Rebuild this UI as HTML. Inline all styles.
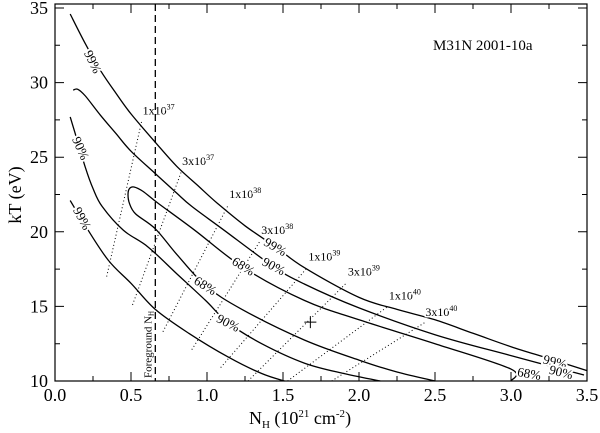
<!DOCTYPE html>
<html><head><meta charset="utf-8">
<style>
html,body{margin:0;padding:0;background:#fff;}
svg{display:block;font-family:"Liberation Serif",serif;}
</style></head>
<body>
<svg id="chart" width="600" height="433" viewBox="0 0 600 433">
<rect x="0" y="0" width="600" height="433" fill="#fff"/>
<g id="plot"></g>
</svg>
<script>
// ---- data ----
const xTicks = [0.0, 0.5, 1.0, 1.5, 2.0, 2.5, 3.0, 3.5];
const xTickLabels = ["0.0","0.5","1.0","1.5","2.0","2.5","3.0","3.5"];
const yTicks = [10, 15, 20, 25, 30, 35];
const yTickLabels = ["10","15","20","25","30","35"];
const contour99upper = [[0.1,34.6],[0.2,32.6],[0.3,30.8],[0.4,29.3],[0.5,27.9],[0.66,26.0],[0.8,24.4],[0.95,23.0],[1.07,21.9],[1.25,20.4],[1.45,19.0],[1.64,17.6],[2.0,15.6],[2.25,14.8],[2.5,14.1],[2.75,13.2],[3.0,12.3],[3.25,11.5],[3.5,10.7]];
const contour90upper = [[0.12,29.5],[0.15,29.55],[0.2,29.1],[0.3,27.8],[0.4,26.6],[0.5,25.4],[0.66,23.9],[0.8,22.6],[0.9,21.7],[1.1,20.2],[1.44,17.65],[1.64,16.5],[2.0,14.9],[2.5,13.1],[3.0,11.7],[3.48,10.4]];
const contour68 = [[3.0,10.0],[3.0,10.8],[2.5,12.5],[2.0,14.1],[1.64,15.4],[1.24,17.6],[0.92,20.1],[0.68,21.9],[0.58,22.7],[0.52,23.0],[0.49,22.9],[0.48,22.5],[0.49,21.9],[0.53,21.2],[0.66,20.2],[0.8,18.5],[0.99,16.4],[1.23,14.8],[1.64,12.75],[2.0,11.4],[2.25,10.6],[2.5,10.0]];
const contour90lower = [[0.1,27.7],[0.15,26.0],[0.2,24.3],[0.25,22.9],[0.31,21.7],[0.45,20.1],[0.61,19.0],[0.8,17.2],[0.99,15.4],[1.14,13.9],[1.36,12.5],[1.64,11.2],[1.9,10.5],[2.14,10.0]];
const contour99lower = [[0.1,22.1],[0.2,20.4],[0.35,18.1],[0.5,16.55],[0.66,14.8],[0.88,13.2],[1.14,11.6],[1.36,10.5],[1.51,10.0]];
const lumNames = ["1x10","3x10","1x10","3x10","1x10","3x10","1x10","3x10"];
const lumExps = ["37","37","38","38","39","39","40","40"];
const lumStart = [[0.34,17.0],[0.51,15.1],[0.71,13.3],[0.90,12.1],[1.09,10.9],[1.27,10.0],[1.53,10.0],[1.82,10.0]];
const lumEnd = [[0.57,27.4],[0.83,24.0],[1.14,21.8],[1.35,19.4],[1.66,17.6],[1.92,16.6],[2.19,15.0],[2.43,13.9]];
const contourLabelText = ["99%","90%","99%","99%","90%","68%","68%","90%","99%","90%","68%"];
const contourLabelPos = [[0.25,31.4],[0.17,25.6],[0.18,20.9],[1.45,19.0],[1.44,17.7],[1.24,17.7],[0.99,16.4],[1.14,13.9],[3.29,11.3],[3.33,10.6],[3.12,10.5]];
const contourLabelAngle = [64,66,62,30,28,32,32,27,14,14,10];
const bestFit = [1.68, 13.95];
const foregroundNH = 0.66;

// ---- axes ----
const X0=55, X1=587, YB=381, YT=4;
const xs = v => X0 + (v-0)/(3.5-0)*(X1-X0);
const ys = v => YB - (v-10)*14.92;
const NS="http://www.w3.org/2000/svg";
const plot=document.getElementById('plot');
function el(tag, attrs, parent){const e=document.createElementNS(NS,tag);for(const k in attrs)e.setAttribute(k,attrs[k]);(parent||plot).appendChild(e);return e;}
function smoothPath(data){
  const p=data.map(d=>[xs(d[0]),ys(d[1])]);
  let s='M'+p[0][0].toFixed(1)+','+p[0][1].toFixed(1);
  for(let i=0;i<p.length-1;i++){
    const p0=p[i-1]||p[i], p1=p[i], p2=p[i+1], p3=p[i+2]||p2;
    const c1=[p1[0]+(p2[0]-p0[0])/6, p1[1]+(p2[1]-p0[1])/6];
    const c2=[p2[0]-(p3[0]-p1[0])/6, p2[1]-(p3[1]-p1[1])/6];
    s+=`C${c1[0].toFixed(1)},${c1[1].toFixed(1)} ${c2[0].toFixed(1)},${c2[1].toFixed(1)} ${p2[0].toFixed(1)},${p2[1].toFixed(1)}`;
  }
  return s;
}

// luminosity dotted lines
lumStart.forEach((s,i)=>{
  const l=el('line',{x1:xs(s[0]),y1:ys(s[1]),x2:xs(lumEnd[i][0]),y2:ys(lumEnd[i][1]),stroke:'#000','stroke-width':1,'stroke-dasharray':'1,2.5'});
  
  
});
// contours
const cset=[[contour99upper,'contour-99-upper'],[contour90upper,'contour-90-upper'],[contour68,'contour-68'],[contour90lower,'contour-90-lower'],[contour99lower,'contour-99-lower']];
cset.forEach(c=>{
  const p=el('path',{d:smoothPath(c[0]),fill:'none',stroke:'#000','stroke-width':1.3});
  
  
});
// contour labels with white halo (gaps)
contourLabelText.forEach((t,i)=>{
  const x=xs(contourLabelPos[i][0]), y=ys(contourLabelPos[i][1]);
  const tx=el('text',{x:x,y:y,'font-size':13,'text-anchor':'middle','dominant-baseline':'central',transform:`rotate(${contourLabelAngle[i]} ${x} ${y})`,stroke:'#fff','stroke-width':4,'paint-order':'stroke',fill:'#000'});
  tx.textContent=t;
  
  
});
// luminosity labels
lumEnd.forEach((e,i)=>{
  const x=xs(e[0])+1, y=ys(e[1])-7;
  const tx=el('text',{x:x,y:y,'font-size':12,stroke:'#fff','stroke-width':3,'paint-order':'stroke',fill:'#000'});
  tx.textContent=lumNames[i];
  const sp=document.createElementNS(NS,'tspan');sp.setAttribute('dy','-5');sp.setAttribute('font-size','8');sp.textContent=lumExps[i];tx.appendChild(sp);
  
  
});
// foreground NH dashed line
const fl=el('line',{x1:xs(foregroundNH),y1:YT,x2:xs(foregroundNH),y2:YB,stroke:'#000','stroke-width':1.3,'stroke-dasharray':'7,4'});


const ft=el('text',{x:0,y:0,'font-size':11,transform:`translate(${xs(foregroundNH)-4},378) rotate(-90)`,fill:'#000'});
ft.innerHTML='Foreground N<tspan font-size="7" dy="2">H</tspan>';


// best fit marker
const bx=xs(bestFit[0]), by=ys(bestFit[1]);
const bm=el('path',{d:`M${bx-6},${by}H${bx+6}M${bx},${by-6}V${by+6}`,stroke:'#000','stroke-width':1});



// frame
const fr=el('rect',{x:X0,y:YT,width:X1-X0,height:YB-YT,fill:'none',stroke:'#000','stroke-width':1.2});


// ticks
let tk='';
for(let v=0;v<=3.5001;v+=0.25){const x=xs(v);const L=(Math.abs(v*2-Math.round(v*2))<1e-6)?9:5;tk+=`M${x},${YB}v${-L}M${x},${YT}v${L}`;}
for(let v=10;v<=35.001;v+=2.5){const y=ys(v);const L=(v%5===0)?9:5;tk+=`M${X0},${y}h${L}M${X1},${y}h${-L}`;}
const tp=el('path',{d:tk,stroke:'#000','stroke-width':1,fill:'none'});


xTicks.forEach((v,i)=>{
  const t=el('text',{x:xs(v),y:401,'font-size':18,'text-anchor':'middle',fill:'#000'});
  t.textContent=xTickLabels[i];
  
  
});
yTicks.forEach((v,i)=>{
  const t=el('text',{x:48,y:ys(v)+6,'font-size':18,'text-anchor':'end',fill:'#000'});
  t.textContent=yTickLabels[i];
  
  
});
const xt=el('text',{x:300,y:424,'font-size':18,'text-anchor':'middle',fill:'#000'});
xt.innerHTML='N<tspan font-size="11" dy="4">H</tspan><tspan dy="-4"> (10</tspan><tspan font-size="11" dy="-7">21</tspan><tspan dy="7"> cm</tspan><tspan font-size="11" dy="-7">-2</tspan><tspan dy="7">)</tspan>';


const yt=el('text',{x:0,y:0,'font-size':18,'text-anchor':'middle',transform:'translate(21,195) rotate(-90)',fill:'#000'});
yt.textContent='kT (eV)';


const tt=el('text',{x:433,y:50,'font-size':15,fill:'#000'});
tt.textContent='M31N 2001-10a';


</script>
</body></html>
